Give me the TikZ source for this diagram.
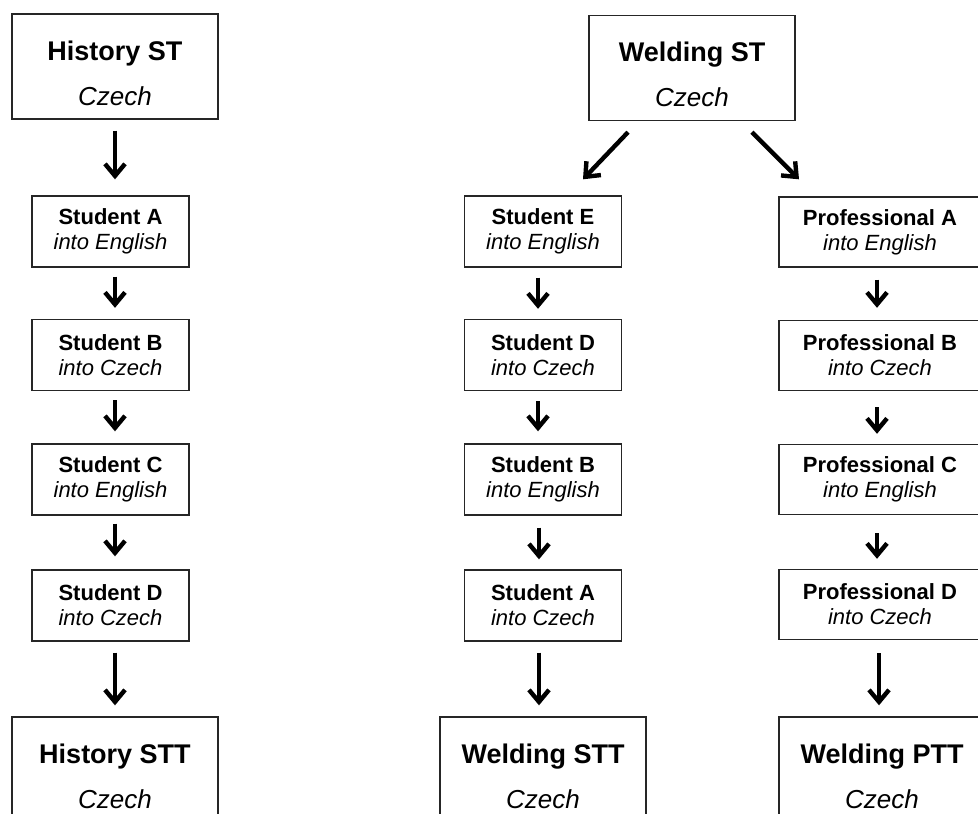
\documentclass[tikz,border=0pt]{standalone}
\usepackage{fontspec}
\setmainfont{Liberation Sans}
\usetikzlibrary{arrows.meta}
\newcommand{\bigtxt}[2]{\rule{0pt}{33pt}{\fontsize{27}{45}\selectfont\bfseries #1}\\\textit{#2}}
\newcommand{\smtxt}[2]{{\fontsize{22}{25}\selectfont\bfseries #1}\\\textit{#2}}
\begin{document}
\begin{tikzpicture}[x=1pt,y=-1pt,
  box/.style={draw=black!85,line width=1.4pt,inner sep=0pt,align=center,text=black},
  bigbox/.style={box,minimum width=206pt,minimum height=105pt,font=\fontsize{26}{45}\selectfont},
  smallbox/.style={box,minimum width=157pt,minimum height=71pt,font=\fontsize{22}{25}\selectfont},
  probox/.style={box,minimum width=202pt,minimum height=70pt,font=\fontsize{22}{25}\selectfont},
  arr/.style={line width=4.4pt,-{Straight Barb[length=12pt,width=20pt,line width=4.4pt]}}]
\useasboundingbox (0,0) rectangle (978,814);
\clip (0,0) rectangle (978,814);
% left column
\node[bigbox]   (hst)  at (115,66.5)  {\bigtxt{History ST}{Czech}};
\node[smallbox] (sa)   at (110.5,231.5) {\smtxt{Student A}{into English}};
\node[smallbox] (sb)   at (110.5,355)   {\smtxt{Student B}{into Czech}};
\node[smallbox] (sc)   at (110.5,479.5) {\smtxt{Student C}{into English}};
\node[smallbox] (sd)   at (110.5,605.5) {\smtxt{Student D}{into Czech}};
\node[bigbox]   (hstt) at (115,769.5) {\bigtxt{History STT}{Czech}};
% middle column
\node[bigbox]   (wst)  at (692,68)    {\bigtxt{Welding ST}{Czech}};
\node[smallbox] (se2)  at (543,231.5) {\smtxt{Student E}{into English}};
\node[smallbox] (sd2)  at (543,355)   {\smtxt{Student D}{into Czech}};
\node[smallbox] (sb2)  at (543,479.5) {\smtxt{Student B}{into English}};
\node[smallbox] (sa2)  at (543,605.5) {\smtxt{Student A}{into Czech}};
\node[bigbox]   (wstt) at (543,769.5) {\bigtxt{Welding STT}{Czech}};
% right column
\node[probox]   (pa)   at (880,232)   {\smtxt{Professional A}{into English}};
\node[probox]   (pb)   at (880,355.5) {\smtxt{Professional B}{into Czech}};
\node[probox]   (pc)   at (880,479.5) {\smtxt{Professional C}{into English}};
\node[probox]   (pd)   at (880,604.5) {\smtxt{Professional D}{into Czech}};
\node[bigbox]   (wptt) at (882,769.5) {\bigtxt{Welding PTT}{Czech}};
% arrows left
\draw[arr] ([shift={(0,11)}]hst.south) -- ([shift={(4.5,-16)}]sa.north);
\draw[arr] ([shift={(4.5,9)}]sa.south) -- ([shift={(4.5,-11)}]sb.north);
\draw[arr] ([shift={(4.5,9)}]sb.south) -- ([shift={(4.5,-12)}]sc.north);
\draw[arr] ([shift={(4.5,8)}]sc.south) -- ([shift={(4.5,-13)}]sd.north);
\draw[arr] ([shift={(4.5,11)}]sd.south) -- ([shift={(0,-11)}]hstt.north);
% arrows middle
\draw[arr] ([shift={(-64,11)}]wst.south) -- ([shift={(40,-16)}]se2.north);
\draw[arr] ([shift={(-5,10)}]se2.south) -- ([shift={(-5,-10)}]sd2.north);
\draw[arr] ([shift={(-5,10)}]sd2.south) -- ([shift={(-5,-12)}]sb2.north);
\draw[arr] ([shift={(-4,12)}]sb2.south) -- ([shift={(-4,-10)}]sa2.north);
\draw[arr] ([shift={(-4,11)}]sa2.south) -- ([shift={(-4,-11)}]wstt.north);
% arrows right
\draw[arr] ([shift={(60,11)}]wst.south) -- ([shift={(-81,-17)}]pa.north);
\draw[arr] ([shift={(-3,12)}]pa.south) -- ([shift={(-3,-12)}]pb.north);
\draw[arr] ([shift={(-3,16)}]pb.south) -- ([shift={(-3,-10)}]pc.north);
\draw[arr] ([shift={(-3,18)}]pc.south) -- ([shift={(-3,-10)}]pd.north);
\draw[arr] ([shift={(-1,13)}]pd.south) -- ([shift={(-3,-11)}]wptt.north);
\end{tikzpicture}
\end{document}
